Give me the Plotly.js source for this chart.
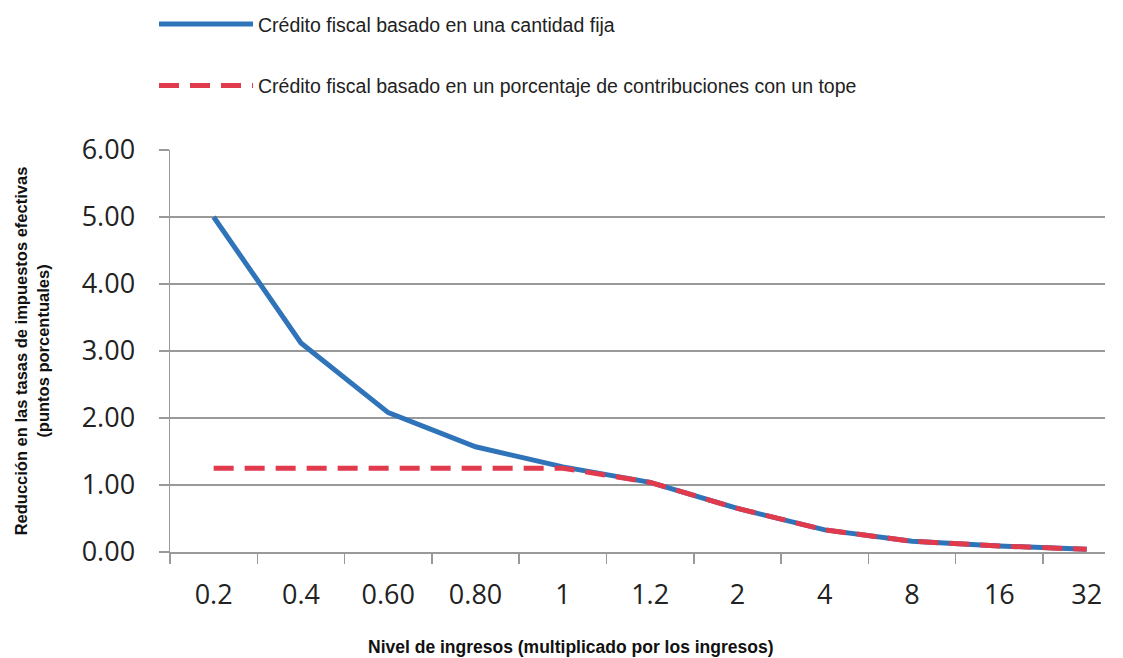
<!DOCTYPE html>
<html>
<head>
<meta charset="utf-8">
<script src="https://cdn.plot.ly/plotly-3.0.1.min.js"></script>
<style>html,body{margin:0;padding:0;background:#fff;}#chart{width:1123px;height:658px;}</style>
</head>
<body>
<div id="chart"></div>
<script>
const incomeLevels = ['0.2', '0.4', '0.60', '0.80', '1', '1.2', '2', '4', '8', '16', '32'];
const fixedCredit = [5.00, 3.12, 2.08, 1.57, 1.27, 1.04, 0.65, 0.33, 0.16, 0.09, 0.04];
const cappedCredit = [1.25, 1.25, 1.25, 1.25, 1.25, 1.04, 0.65, 0.33, 0.16, 0.09, 0.04];
const yTicks = [0, 1, 2, 3, 4, 5, 6];
const yTickLabels = ['0.00', '1.00', '2.00', '3.00', '4.00', '5.00', '6.00'];
const seriesNames = ['Crédito fiscal basado en una cantidad fija', 'Crédito fiscal basado en un porcentaje de contribuciones con un tope'];
const xTitle = 'Nivel de ingresos (multiplicado por los ingresos)';
const yTitle = 'Reducción en las tasas de impuestos efectivas<br>(puntos porcentuales)';

const narrow = '"Liberation Sans Narrow", "Arial Narrow", "Liberation Sans", Arial, sans-serif';

const traces = [
  {x: incomeLevels, y: fixedCredit, name: seriesNames[0], type: 'scatter', mode: 'lines',
   line: {color: '#2f73b9', width: 5}, legendgroup: 'a'},
  {x: incomeLevels, y: cappedCredit, name: seriesNames[1], type: 'scatter', mode: 'lines',
   line: {color: '#e03a4c', width: 5, dash: '20px,11px'}, legendgroup: 'b'}
];

const layout = {
  width: 1123, height: 658,
  margin: {l: 170, r: 18, t: 150, b: 106, autoexpand: false},
  paper_bgcolor: '#ffffff', plot_bgcolor: '#ffffff',
  showlegend: true,
  legend: {x: -0.0171, y: 1.361, xanchor: 'left', yanchor: 'top', traceorder: 'grouped', tracegroupgap: 33,
    itemwidth: 94,
    font: {family: narrow, size: 19.5, color: '#222'},
    bgcolor: 'rgba(0,0,0,0)'},
  xaxis: {
    type: 'category', range: [-0.5, 10.21],
    tickson: 'boundaries', ticks: 'outside', ticklen: 10, tickcolor: '#999', tickwidth: 1.5,
    ticklabelstandoff: 18,
    showgrid: false, showline: true, linecolor: '#999', linewidth: 1.5,
    tickfont: {family: '"Open Sans", sans-serif', size: 27, color: '#222'}
  },
  yaxis: {
    range: [0, 6], tickvals: yTicks, ticktext: yTickLabels,
    ticks: 'outside', ticklen: 10, tickcolor: '#999', tickwidth: 1.5,
    ticklabelstandoff: 18,
    showgrid: true, gridcolor: '#999', gridwidth: 1.5,
    showline: true, linecolor: '#999', linewidth: 1.5, zeroline: false,
    tickfont: {family: '"Open Sans", sans-serif', size: 27, color: '#222'},
    title: {text: yTitle, standoff: 28,
      font: {family: narrow, size: 16.5, color: '#111', weight: 'bold'}}
  },
  annotations: [
    {text: xTitle, xref: 'paper', yref: 'paper', x: 0.429, y: -0.236, xanchor: 'center', yanchor: 'middle',
     showarrow: false, font: {family: narrow, size: 17.5, color: '#111', weight: 'bold'}}
  ]
};

Plotly.newPlot('chart', traces, layout, {displayModeBar: false, staticPlot: true});
</script>
</body>
</html>
